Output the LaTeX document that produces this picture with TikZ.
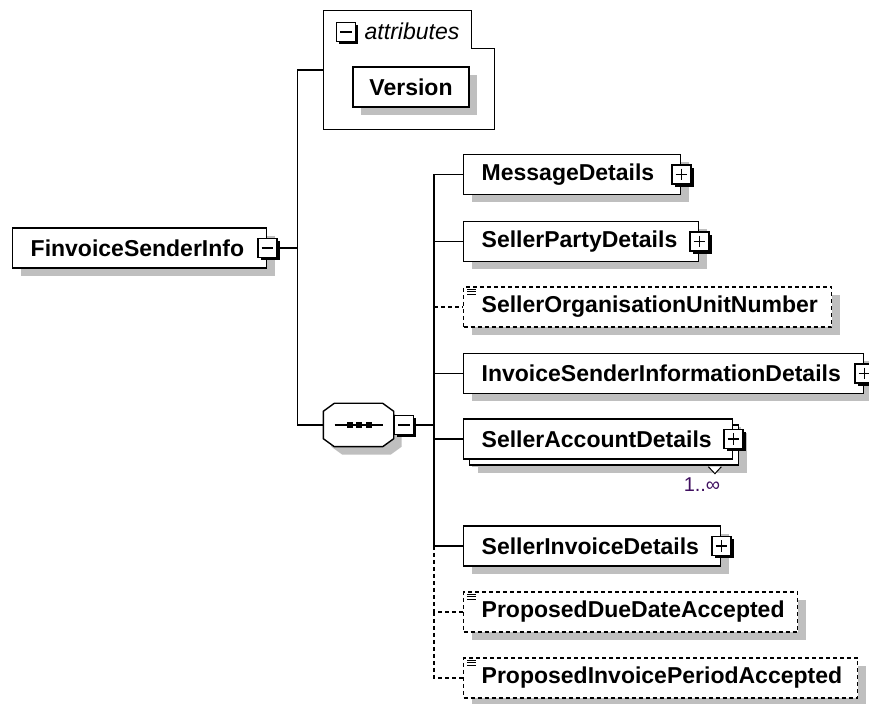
\documentclass[tikz,border=0pt]{standalone}
\usepackage{fontspec}
\setmainfont{Liberation Sans}
\usetikzlibrary{shadows}
\definecolor{occurs}{RGB}{64,16,96}

\begin{document}
\begin{tikzpicture}[x=0.5pt, y=-0.5pt, line width=0.7pt,
    every node/.style={font=\fontsize{11.5}{13}\selectfont},
    grayshadow/.style={general shadow={fill=black!25, shadow xshift=4pt, shadow yshift=-4pt}},
    elem/.style={draw, fill=white, minimum height=20pt, inner xsep=9pt, inner ysep=0pt,
      align=left, anchor=west, font=\fontsize{11.5}{13}\selectfont\bfseries, grayshadow},
    opt/.style={dash pattern=on 2pt off 1.5pt},
    optelem/.style={elem, opt},
    pmbox/.style={draw, fill=white, minimum size=9.5pt, inner sep=0pt,
      general shadow={fill=black, shadow xshift=1.4pt, shadow yshift=-1.4pt}},
    minusbox/.style={pmbox, path picture={
      \draw[line width=0.8pt] ([xshift=1.8pt]path picture bounding box.west) -- ([xshift=-1.8pt]path picture bounding box.east);}},
    plusbox/.style={pmbox, path picture={
      \draw[line width=0.8pt] ([xshift=1.8pt]path picture bounding box.west) -- ([xshift=-1.8pt]path picture bounding box.east)
            ([yshift=-1.8pt]path picture bounding box.north) -- ([yshift=1.8pt]path picture bounding box.south);}}
  ]
  \useasboundingbox (0,0) rectangle (869,704);

  % root element
  \node[elem, text width=109pt] (root) at (12,248) {FinvoiceSenderInfo};
  \node[minusbox] (rootm) at (root.east) {};

  % attributes
  \node[minimum width=85pt, minimum height=59pt, inner sep=0pt] (att) at (409,70) {};
  \draw (att.north west) -- ++(148,0) |- ([yshift=-19pt]att.north east) -- (att.south east) -- (att.south west) -- cycle;
  \node[minusbox] (attm) at (346,32) {};
  \node[anchor=west, inner sep=0pt, font=\fontsize{11.5}{13}\selectfont\itshape] (attl) at (364,31) {attributes};
  \node[elem, anchor=center, inner xsep=0pt, minimum width=58pt] (ver) at (411,87) {Version};

  % sequence
  \node[minimum width=34.5pt, minimum height=21pt, inner sep=0pt] (seq) at (358.5,425) {};
  \filldraw[fill=white, grayshadow] ([xshift=5.5pt]seq.north west) -- ([xshift=-5.5pt]seq.north east)
    -- ([yshift=-4pt]seq.north east) -- ([yshift=4pt]seq.south east) -- ([xshift=-5.5pt]seq.south east)
    -- ([xshift=5.5pt]seq.south west) -- ([yshift=4pt]seq.south west) -- ([yshift=-4pt]seq.north west) -- cycle;
  \draw ([shift={(-24,0)}]seq.center) -- ([shift={(24,0)}]seq.center);
  \foreach \dx in {-9,0,10}
    \fill ([shift={(\dx-3,-3)}]seq.center) rectangle ++(6,6);
  \node[minusbox, anchor=west] (seqm) at (seq.east) {};

  % children
  \node[elem, text width=90.5pt] (md) at (463,174.5) {MessageDetails};
  \node[plusbox] (mdp) at (md.east) {};
  \node[elem, text width=99.5pt] (spd) at (463,241.5) {SellerPartyDetails};
  \node[plusbox] (spdp) at (spd.east) {};
  \node[optelem, text width=166pt] (soun) at (463,307) {SellerOrganisationUnitNumber};
  \node[elem, text width=182pt] (isid) at (463,373.5) {InvoiceSenderInformationDetails};
  \node[plusbox] (isidp) at (isid.east) {};
  \node[elem, text width=116.5pt,
    general shadow={fill=black!25, shadow xshift=7pt, shadow yshift=-7pt},
    copy shadow={shadow xshift=3pt, shadow yshift=-3pt}] (sad) at (463,439) {SellerAccountDetails};
  \node[plusbox] (sadp) at (sad.east) {};
  \draw[fill=white, line width=0.5pt] ([shift={(-25,7)}]sad.south east) -- ++(6.5,7) -- ++(6.5,-7);
  \node[text=occurs, font=\fontsize{10}{12}\selectfont] (sadocc) at (702,485) {1..∞};
  \node[elem, text width=110.5pt] (sid) at (463,546) {SellerInvoiceDetails};
  \node[plusbox] (sidp) at (sid.east) {};
  \node[optelem, text width=149pt] (pdd) at (463,612) {ProposedDueDateAccepted};
  \node[optelem, text width=179pt] (pip) at (463,678) {ProposedInvoicePeriodAccepted};
  \foreach \n in {soun,pdd,pip}
    \foreach \dy in {3,5.5,8}
      \draw[line width=0.4pt] ([shift={(4,\dy)}]\n.north west) -- ++(9,0);

  % connectors
  \draw (rootm.east) -- ++(20,0) coordinate (fork) |- (att.west);
  \draw (fork) |- (seq.west);
  \draw (seqm.east) -- ++(20,0) coordinate (bus);
  \draw (bus) |- (md.west);
  \draw (bus) |- (spd.west);
  \draw[opt] (soun.west -| bus) -- (soun.west);
  \draw (bus) |- (isid.west);
  \draw (bus) |- (sad.west);
  \draw (bus) |- (sid.west);
  \draw[opt] (sid.west -| bus) |- (pdd.west);
  \draw[opt] (pdd.west -| bus) |- (pip.west);
\end{tikzpicture}
\end{document}
